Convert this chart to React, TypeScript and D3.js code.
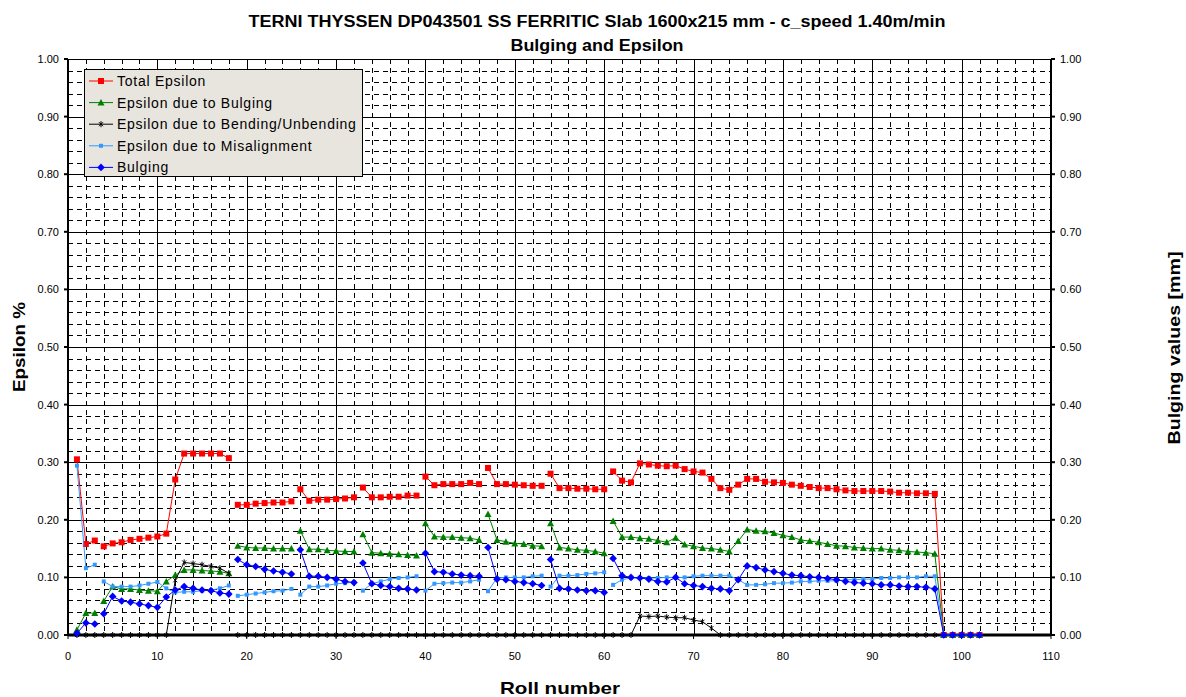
import React from "react";
import * as d3 from "d3";

const rolls = d3.range(1, 103);
// first roll of each group of rolls; lines are not joined across groups
const segmentStarts = [1, 4, 19, 26, 33, 40, 47, 54, 61];

const totalEpsilon = [
  0.305, 0.158, 0.164, 0.154, 0.159, 0.161, 0.165, 0.167, 0.169, 0.171,
  0.176, 0.27, 0.315, 0.315, 0.315, 0.315, 0.315, 0.307, 0.226, 0.226,
  0.228, 0.229, 0.23, 0.23, 0.232, 0.253, 0.233, 0.235, 0.235, 0.236,
  0.237, 0.239, 0.256, 0.239, 0.239, 0.24, 0.24, 0.242, 0.242, 0.275,
  0.26, 0.262, 0.262, 0.262, 0.264, 0.262, 0.29, 0.262, 0.262, 0.261,
  0.26, 0.259, 0.259, 0.28, 0.255, 0.255, 0.254, 0.254, 0.253, 0.253,
  0.284, 0.268, 0.265, 0.298, 0.296, 0.294, 0.293, 0.294, 0.288, 0.284,
  0.282, 0.271, 0.255, 0.252, 0.261, 0.271, 0.271, 0.266, 0.265, 0.264,
  0.261, 0.259, 0.257, 0.255, 0.255, 0.253, 0.251, 0.25, 0.25, 0.25,
  0.25, 0.249, 0.247, 0.247, 0.246, 0.246, 0.245, 0, 0, 0,
  0, 0,
];

const epsBulging = [
  0.009, 0.038, 0.038, 0.059, 0.084, 0.08, 0.08, 0.078, 0.077, 0.076,
  0.093, 0.104, 0.113, 0.113, 0.112, 0.111, 0.11, 0.107, 0.155, 0.152,
  0.151, 0.151, 0.15, 0.15, 0.15, 0.181, 0.149, 0.149, 0.147, 0.146,
  0.145, 0.145, 0.175, 0.143, 0.142, 0.141, 0.14, 0.139, 0.138, 0.194,
  0.171, 0.17, 0.17, 0.169, 0.168, 0.165, 0.21, 0.165, 0.162, 0.159,
  0.158, 0.155, 0.154, 0.194, 0.152, 0.15, 0.148, 0.147, 0.145, 0.142,
  0.198, 0.17, 0.17, 0.168, 0.167, 0.164, 0.161, 0.169, 0.157, 0.154,
  0.151, 0.15, 0.148, 0.145, 0.163, 0.183, 0.181, 0.18, 0.177, 0.173,
  0.17, 0.165, 0.163, 0.161, 0.158, 0.155, 0.154, 0.152, 0.151, 0.15,
  0.15, 0.148, 0.147, 0.145, 0.144, 0.143, 0.141, 0, 0, 0,
  0, 0,
];

const epsBending = [
  0, 0, 0, 0, 0, 0, 0, 0, 0, 0,
  0, 0.095, 0.126, 0.124, 0.122, 0.119, 0.116, 0.107, 0, 0,
  0, 0, 0, 0, 0, 0, 0, 0, 0, 0,
  0, 0, 0, 0, 0, 0, 0, 0, 0, 0,
  0, 0, 0, 0, 0, 0, 0, 0, 0, 0,
  0, 0, 0, 0, 0, 0, 0, 0, 0, 0,
  0, 0, 0, 0.033, 0.032, 0.033, 0.031, 0.03, 0.03, 0.026,
  0.023, 0.012, 0, 0, 0, 0, 0, 0, 0, 0,
  0, 0, 0, 0, 0, 0, 0, 0, 0, 0,
  0, 0, 0, 0, 0, 0, 0, 0, 0, 0,
  0, 0,
];

const epsMisalignment = [
  0.294, 0.116, 0.122, 0.093, 0.084, 0.084, 0.084, 0.086, 0.089, 0.092,
  0.081, 0.074, 0.075, 0.075, 0.077, 0.078, 0.081, 0.086, 0.068, 0.07,
  0.072, 0.074, 0.076, 0.077, 0.08, 0.07, 0.084, 0.084, 0.086, 0.089,
  0.09, 0.092, 0.077, 0.089, 0.093, 0.097, 0.099, 0.1, 0.102, 0.077,
  0.089, 0.09, 0.091, 0.091, 0.093, 0.096, 0.076, 0.099, 0.1, 0.1,
  0.1, 0.102, 0.103, 0.084, 0.103, 0.103, 0.104, 0.106, 0.107, 0.109,
  0.087, 0.096, 0.099, 0.099, 0.099, 0.099, 0.1, 0.1, 0.1, 0.102,
  0.103, 0.103, 0.103, 0.103, 0.096, 0.087, 0.087, 0.088, 0.09, 0.09,
  0.091, 0.093, 0.093, 0.094, 0.094, 0.094, 0.096, 0.096, 0.097, 0.097,
  0.099, 0.099, 0.1, 0.1, 0.1, 0.102, 0.102, 0, 0, 0,
  0, 0,
];

const bulging = [
  0.003, 0.021, 0.019, 0.037, 0.067, 0.059, 0.057, 0.054, 0.051, 0.048,
  0.066, 0.078, 0.084, 0.081, 0.078, 0.077, 0.073, 0.071, 0.131, 0.122,
  0.119, 0.114, 0.111, 0.109, 0.106, 0.148, 0.102, 0.102, 0.1, 0.097,
  0.093, 0.091, 0.125, 0.089, 0.086, 0.084, 0.081, 0.08, 0.078, 0.142,
  0.11, 0.109, 0.106, 0.104, 0.103, 0.102, 0.152, 0.097, 0.096, 0.093,
  0.091, 0.089, 0.086, 0.131, 0.081, 0.08, 0.078, 0.077, 0.077, 0.074,
  0.133, 0.103, 0.1, 0.099, 0.097, 0.093, 0.092, 0.1, 0.089, 0.086,
  0.084, 0.081, 0.08, 0.077, 0.096, 0.12, 0.117, 0.113, 0.11, 0.107,
  0.104, 0.103, 0.101, 0.1, 0.098, 0.096, 0.093, 0.091, 0.09, 0.089,
  0.087, 0.087, 0.085, 0.084, 0.084, 0.083, 0.08, 0, 0, 0,
  0, 0,
];

const xTicks = d3.range(0, 111, 10);
const yTicks = d3.range(0, 1.001, 0.1);

type MarkerKind = "square" | "triangle" | "star" | "smallSquare" | "diamond";

const series: { name: string; color: string; marker: MarkerKind; values: number[] }[] = [
  { name: "Total Epsilon", color: "#ff0000", marker: "square", values: totalEpsilon },
  { name: "Epsilon due to Bulging", color: "#008000", marker: "triangle", values: epsBulging },
  { name: "Epsilon due to Bending/Unbending", color: "#000000", marker: "star", values: epsBending },
  { name: "Epsilon due to Misalignment", color: "#3399ff", marker: "smallSquare", values: epsMisalignment },
  { name: "Bulging", color: "#0000ff", marker: "diamond", values: bulging },
];

const W = 1186;
const H = 697;
const font = "'Liberation Sans', Arial, sans-serif";

function Marker({ kind, cx, cy, color }: { kind: MarkerKind; cx: number; cy: number; color: string }) {
  switch (kind) {
    case "square":
      return <rect x={cx - 3} y={cy - 3} width={6} height={6} fill={color} />;
    case "smallSquare":
      return <rect x={cx - 2} y={cy - 2} width={4} height={4} fill={color} />;
    case "triangle":
      return <path d={`M${cx},${cy - 3.5}L${cx + 3.5},${cy + 3}L${cx - 3.5},${cy + 3}Z`} fill={color} />;
    case "diamond":
      return <path d={`M${cx},${cy - 3.8}L${cx + 3.8},${cy}L${cx},${cy + 3.8}L${cx - 3.8},${cy}Z`} fill={color} />;
    default:
      return (
        <path
          d={`M${cx - 2},${cy - 2}L${cx + 2},${cy + 2}M${cx - 2},${cy + 2}L${cx + 2},${cy - 2}M${cx},${cy - 3}L${cx},${cy + 3}`}
          stroke={color}
          strokeWidth={1}
          fill="none"
        />
      );
  }
}

export default function App() {
  const x = d3.scaleLinear().domain([0, 110]).range([68, 1051]);
  const y = d3.scaleLinear().domain([0, 1]).range([635, 59]);

  // split rolls into groups
  const groups: number[][] = [];
  rolls.forEach((r, i) => {
    if (segmentStarts.includes(r) || groups.length === 0) groups.push([]);
    groups[groups.length - 1].push(i);
  });

  const line = d3
    .line<[number, number]>()
    .x((d) => x(d[0]))
    .y((d) => y(d[1]));

  const minorX = d3.range(2, 110, 2).filter((v) => v % 10 !== 0);
  const minorY = d3.range(1, 50).map((k) => k * 0.02).filter((_, k) => (k + 1) % 5 !== 0);
  const [x0, x1] = x.range();
  const [yb, yt] = y.range();

  return (
    <svg width={W} height={H} style={{ position: "absolute", left: 0, top: 0, background: "#fff" }} fontFamily={font}>
      <text x={597} y={27} textAnchor="middle" fontSize={16} fontWeight="bold" textLength={697} lengthAdjust="spacingAndGlyphs">
        TERNI THYSSEN DP043501 SS FERRITIC Slab 1600x215 mm - c_speed 1.40m/min
      </text>
      <text x={597} y={51} textAnchor="middle" fontSize={16} fontWeight="bold" textLength={173} lengthAdjust="spacingAndGlyphs">
        Bulging and Epsilon
      </text>

      {/* dashed minor grid */}
      <g stroke="#000" strokeWidth={1} strokeDasharray="5,4">
        {minorX.map((v) => (
          <line key={"mx" + v} x1={Math.round(x(v)) + 0.5} x2={Math.round(x(v)) + 0.5} y1={yt} y2={yb} />
        ))}
        {minorY.map((v) => (
          <line key={"my" + v} x1={x0} x2={x1} y1={Math.round(y(v)) + 0.5} y2={Math.round(y(v)) + 0.5} />
        ))}
      </g>
      {/* solid major grid */}
      <g stroke="#000" strokeWidth={1}>
        {xTicks.slice(1, -1).map((v) => (
          <line key={"gx" + v} x1={Math.round(x(v)) + 0.5} x2={Math.round(x(v)) + 0.5} y1={yt} y2={yb} />
        ))}
        {yTicks.slice(1).map((v) => (
          <line key={"gy" + v} x1={x0} x2={x1} y1={Math.round(y(v)) + 0.5} y2={Math.round(y(v)) + 0.5} />
        ))}
      </g>

      {/* axes */}
      <g stroke="#000">
        <line x1={x0} x2={x0} y1={yt} y2={yb + 1} strokeWidth={2} />
        <line x1={x1} x2={x1} y1={yt} y2={yb + 1} strokeWidth={2} />
        <line x1={x0} x2={x1} y1={yb} y2={yb} strokeWidth={3} />
        {yTicks.map((v) => (
          <g key={"yt" + v}>
            <line x1={x0 - 4} x2={x0} y1={y(v)} y2={y(v)} strokeWidth={2} />
            <line x1={x1} x2={x1 + 4} y1={y(v)} y2={y(v)} strokeWidth={2} />
          </g>
        ))}
        {xTicks.map((v) => (
          <line key={"xt" + v} x1={x(v)} x2={x(v)} y1={yb} y2={yb + 4} strokeWidth={1} />
        ))}
      </g>

      <g fontSize={11} fill="#000">
        {yTicks.map((v) => (
          <g key={"yl" + v}>
            <text x={x0 - 9} y={y(v) + 4} textAnchor="end">
              {v.toFixed(2)}
            </text>
            <text x={x1 + 9} y={y(v) + 4}>
              {v.toFixed(2)}
            </text>
          </g>
        ))}
        {xTicks.map((v) => (
          <text key={"xl" + v} x={x(v)} y={660} textAnchor="middle">
            {v}
          </text>
        ))}
      </g>

      <text x={560} y={694} textAnchor="middle" fontSize={17} fontWeight="bold" textLength={120} lengthAdjust="spacingAndGlyphs">
        Roll number
      </text>
      <text transform="translate(25,347) rotate(-90)" textAnchor="middle" fontSize={17} fontWeight="bold" textLength={90} lengthAdjust="spacingAndGlyphs">
        Epsilon %
      </text>
      <text transform="translate(1180,348) rotate(-90)" textAnchor="middle" fontSize={16} fontWeight="bold" textLength={193} lengthAdjust="spacingAndGlyphs">
        Bulging values [mm]
      </text>

      {/* series */}
      {series.map((s) => (
        <g key={s.name}>
          {groups.map((g, gi) => (
            <path
              key={gi}
              d={line(g.map((i) => [rolls[i], s.values[i]] as [number, number])) || ""}
              fill="none"
              stroke={s.color}
              strokeWidth={1}
            />
          ))}
          {rolls.map((r, i) => (
            <Marker key={r} kind={s.marker} cx={x(r)} cy={y(s.values[i])} color={s.color} />
          ))}
        </g>
      ))}

      {/* legend */}
      <g>
        <rect x={84.5} y={69.5} width={278} height={107} fill="#e8e5de" stroke="#000" strokeWidth={1} />
        {series.map((s, i) => {
          const ly = 81 + i * 21.6;
          return (
            <g key={"lg" + s.name}>
              <line x1={89} x2={113} y1={ly} y2={ly} stroke={s.color} strokeWidth={1} />
              <Marker kind={s.marker} cx={101} cy={ly} color={s.color} />
              <text x={117} y={ly + 5} fontSize={14} letterSpacing={0.75}>
                {s.name}
              </text>
            </g>
          );
        })}
      </g>
    </svg>
  );
}
